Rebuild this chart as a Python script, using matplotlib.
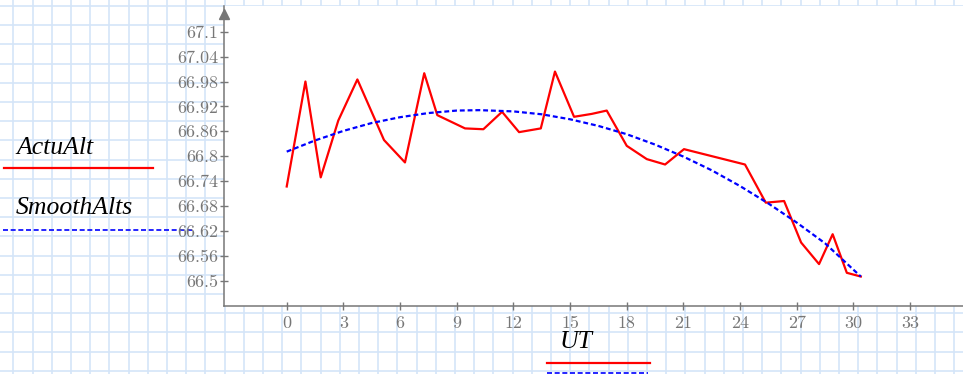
import numpy as np
import matplotlib
matplotlib.use("Agg")
import matplotlib.pyplot as plt

ut = [0.0, 0.99, 1.80, 2.73, 3.74, 5.15, 6.26, 7.28, 7.97, 9.44, 10.41, 11.40,
      12.30, 13.45, 14.20, 15.21, 16.15, 16.94, 18.0, 19.06, 20.03, 21.03,
      24.26, 25.36, 26.33, 27.23, 28.18, 28.90, 29.65, 30.39]
actu_alt = [66.727, 66.980, 66.749, 66.886, 66.985, 66.839, 66.785, 67.000,
            66.899, 66.867, 66.865, 66.907, 66.858, 66.867, 67.004, 66.895,
            66.902, 66.910, 66.825, 66.793, 66.780, 66.817, 66.780, 66.688,
            66.692, 66.592, 66.540, 66.612, 66.519, 66.510]

# smoothed curve, sampled from the chart
ut_s = [0, 1.5, 3, 4.5, 6, 7.5, 9, 10.2, 12, 13.5, 15, 16.5, 18, 19.5, 21,
        22.5, 24, 25.5, 27, 28.5, 30.39]
smooth_alts = [66.811, 66.838, 66.861, 66.880, 66.894, 66.904, 66.910, 66.911,
               66.908, 66.901, 66.889, 66.873, 66.853, 66.828, 66.799, 66.766,
               66.728, 66.686, 66.640, 66.590, 66.510]

xticks = np.arange(0, 34, 3)
yticks = [66.5, 66.56, 66.62, 66.68, 66.74, 66.8, 66.86, 66.92, 66.98,
          67.04, 67.1]

W, H = 963, 374
fig = plt.figure(figsize=(W / 100, H / 100), dpi=100)

# graph-paper background
bg = fig.add_axes([0, 0, 1, 1], zorder=-1)
bg.set_xlim(0, W)
bg.set_ylim(H, 0)
bg.axis("off")
gc = "#d4e5f8"
for gx in np.arange(13.4, W, 19.2):
    bg.axvline(gx, color=gc, lw=1.2)
for gy in np.arange(6, H, 19.2):
    bg.axhline(gy, color=gc, lw=1.2)

# legend-ish labels, Mathcad style
lab = dict(family="Liberation Serif", style="italic", fontsize=18.5,
           color="black")
bg.text(16, 154, "ActuAlt", **lab)
bg.plot([4, 153], [168, 168], color="red", lw=1.6)
bg.text(16, 214, "SmoothAlts", **lab)
bg.plot([3, 192], [229.5, 229.5], color="blue", lw=1.2, dashes=(3, 1.6))
bg.text(560, 348, "UT", **lab)
bg.plot([547, 650], [362.7, 362.7], color="red", lw=1.6)
bg.plot([547, 648], [372.7, 372.7], color="blue", lw=1.2, dashes=(3, 1.6))

ax = fig.add_axes([224 / W, (H - 306) / H, (W - 224) / W, 300 / H])
ax.set_facecolor("white")
ax.plot(ut, actu_alt, color="red", lw=1.6)
ax.plot(ut_s, smooth_alts, color="blue", lw=1.6, dashes=(2.2, 1.3))

ax.set_xlim(-3.32, 35.8)
ax.set_ylim(66.439, 67.162)
ax.set_xticks(xticks)
ax.set_yticks(yticks)
ax.set_xticklabels([str(v) for v in xticks])
ax.set_yticklabels(["%g" % v for v in yticks])

gray = "#777777"
for s in ["top", "right"]:
    ax.spines[s].set_visible(False)
for s in ["left", "bottom"]:
    ax.spines[s].set_color(gray)
    ax.spines[s].set_linewidth(1.1)
ax.tick_params(axis="both", direction="inout", length=6, width=1.0,
               color=gray, labelcolor=gray)
ax.tick_params(axis="y", pad=1)
ax.tick_params(axis="x", pad=4)
for t in ax.get_xticklabels() + ax.get_yticklabels():
    t.set_family("cmr10")
    t.set_fontsize(13)

# arrow head on the y axis
ax.plot([0], [0.975], marker="^", ms=7, color=gray, transform=ax.transAxes,
        clip_on=False)

fig.savefig("out.png", dpi=100)
